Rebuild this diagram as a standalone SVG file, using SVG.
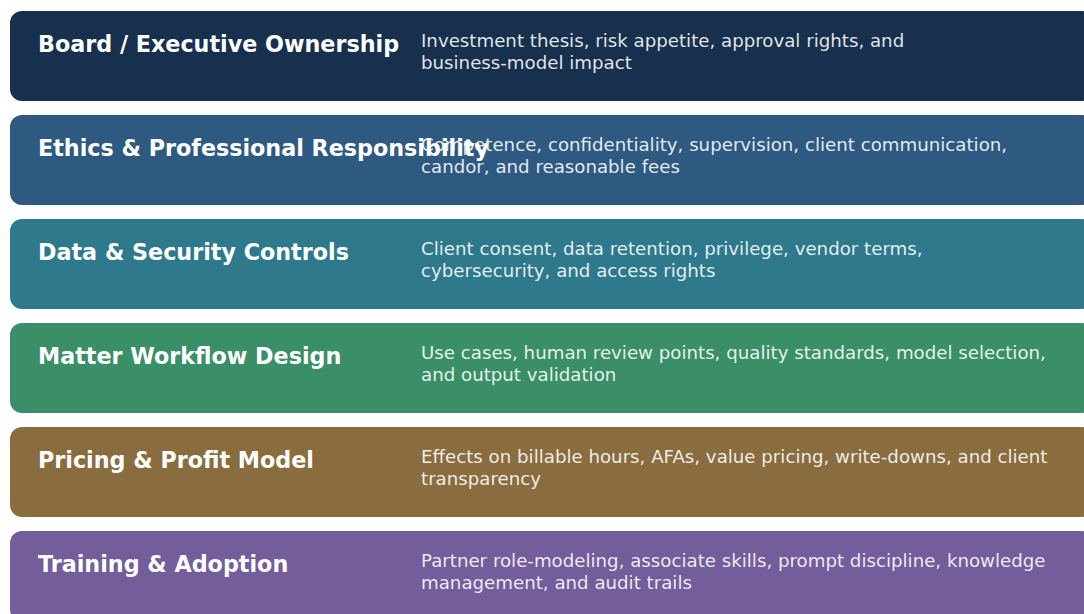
<svg xmlns="http://www.w3.org/2000/svg" width="1084" height="614" viewBox="0 0 1084 614">
  <style>
    .band { stroke: none; }
    .title { font-family: "DejaVu Sans", "Liberation Sans", sans-serif; font-weight: bold; font-size: 22.25px; fill: #ffffff; }
    .desc { font-family: "DejaVu Sans", "Liberation Sans", sans-serif; font-size: 18.2px; fill: #ffffff; fill-opacity: 0.88; }
  </style>
  <rect width="1084" height="614" fill="#ffffff"/>

  <g id="board">
    <rect class="band" x="10" y="11" width="1084" height="90" rx="12" fill="#17304d"/>
    <text class="title" x="38" y="52">Board / Executive Ownership</text>
    <text class="desc" x="421" y="46.5">Investment thesis, risk appetite, approval rights, and</text>
    <text class="desc" x="421" y="68.5">business-model impact</text>
  </g>

  <g id="ethics">
    <rect class="band" x="10" y="115" width="1084" height="90" rx="12" fill="#2e5a81"/>
    <text class="title" x="38" y="156">Ethics &amp; Professional Responsibility</text>
    <text class="desc" x="421" y="150.5">Competence, confidentiality, supervision, client communication,</text>
    <text class="desc" x="421" y="172.5">candor, and reasonable fees</text>
  </g>

  <g id="data-security">
    <rect class="band" x="10" y="219" width="1084" height="90" rx="12" fill="#2e7a8c"/>
    <text class="title" x="38" y="260">Data &amp; Security Controls</text>
    <text class="desc" x="421" y="254.5">Client consent, data retention, privilege, vendor terms,</text>
    <text class="desc" x="421" y="276.5">cybersecurity, and access rights</text>
  </g>

  <g id="workflow">
    <rect class="band" x="10" y="323" width="1084" height="90" rx="12" fill="#3a8f68"/>
    <text class="title" x="38" y="364">Matter Workflow Design</text>
    <text class="desc" x="421" y="358.5">Use cases, human review points, quality standards, model selection,</text>
    <text class="desc" x="421" y="380.5">and output validation</text>
  </g>

  <g id="pricing">
    <rect class="band" x="10" y="427" width="1084" height="90" rx="12" fill="#8a6d3f"/>
    <text class="title" x="38" y="468">Pricing &amp; Profit Model</text>
    <text class="desc" x="421" y="462.5">Effects on billable hours, AFAs, value pricing, write-downs, and client</text>
    <text class="desc" x="421" y="484.5">transparency</text>
  </g>

  <g id="training">
    <rect class="band" x="10" y="531" width="1084" height="90" rx="12" fill="#735d9a"/>
    <text class="title" x="38" y="572">Training &amp; Adoption</text>
    <text class="desc" x="421" y="566.5">Partner role-modeling, associate skills, prompt discipline, knowledge</text>
    <text class="desc" x="421" y="588.5">management, and audit trails</text>
  </g>

  <g id="connectors"></g>
</svg>
